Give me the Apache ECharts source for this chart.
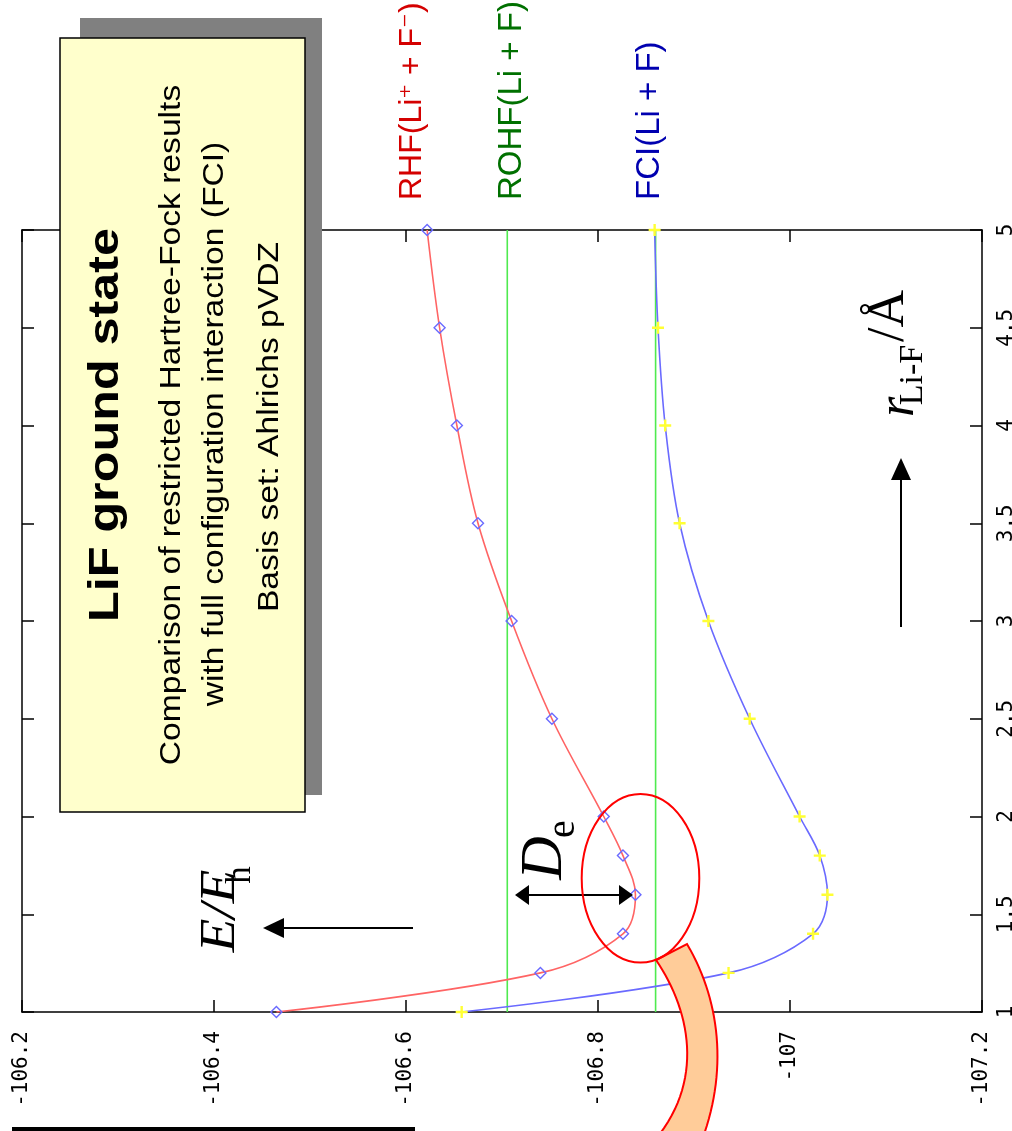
<!DOCTYPE html>
<html>
<head>
<meta charset="utf-8">
<script src="https://cdn.jsdelivr.net/npm/echarts@6/dist/echarts.min.js"></script>
<style>
html,body{margin:0;padding:0;background:#fff;}
#chart{width:1012px;height:1131px;}
</style>
</head>
<body>
<div id="chart"></div>
<script>
// ---- data ----
const distances = [1.0, 1.2, 1.4, 1.6, 1.8, 2.0, 2.5, 3.0, 3.5, 4.0, 4.5, 5.0];
const rhfEnergy = [-106.465, -106.740, -106.826, -106.839, -106.826, -106.806, -106.752, -106.710, -106.675, -106.653, -106.635, -106.622];
const fciEnergy = [-106.658, -106.936, -107.024, -107.039, -107.031, -107.010, -106.958, -106.915, -106.885, -106.870, -106.8625, -106.859];
const rohfLimit = -106.7055;
const fciLimit = -106.860;
const energyRange = [-107.2, -106.2];
const distanceRange = [1, 5];
const titleText = 'LiF ground state';
const subtitleLines = ['Comparison of restricted Hartree-Fock results', 'with full configuration interaction (FCI)', 'Basis set: Ahlrichs pVDZ'];

const chart = echarts.init(document.getElementById('chart'), null, {renderer: 'canvas'});
const R90 = Math.PI / 2;

const axisLine = {show: true, lineStyle: {color: '#000', width: 1.5}};
const axisTick = {show: true, inside: true, length: 12, lineStyle: {color: '#000', width: 1.5}};
const monoLabel = {fontFamily: 'DejaVu Sans Mono', fontSize: 21, color: '#000'};

function pairs(ys) { return distances.map((r, i) => [ys[i], r]); }

const plusPath = 'path://M4,0L6,0L6,4L10,4L10,6L6,6L6,10L4,10L4,6L0,6L0,4L4,4Z';

// orange band outline from two cubic curves (annotation shape)
function cubic(p0, p1, p2, p3, n) {
  const pts = [];
  for (let k = 0; k <= n; k++) {
    const t = k / n, u = 1 - t;
    pts.push([
      u*u*u*p0[0] + 3*u*u*t*p1[0] + 3*u*t*t*p2[0] + t*t*t*p3[0],
      u*u*u*p0[1] + 3*u*u*t*p1[1] + 3*u*t*t*p2[1] + t*t*t*p3[1]
    ]);
  }
  return pts;
}
const bandPts = cubic([656,960],[690,1010],[705,1080],[655,1140],30)
  .concat(cubic([702,1140],[728,1070],[720,1000],[687,944],30));

function rtext(x, y, text, style, extra) {
  return Object.assign({type: 'text', x: x, y: y, rotation: R90, z: 100,
    style: Object.assign({text: text, align: 'center', verticalAlign: 'middle', fill: '#000'}, style)}, extra || {});
}
function seriesLabel(x, text, color, size) {
  return rtext(x, 200, text, {fontFamily: 'Liberation Sans', fontSize: size, fill: color, align: 'left',
    rich: {s: {fontFamily: 'DejaVu Sans', fontSize: 28, fill: color}}});
}

const option = {
  backgroundColor: '#fff',
  animation: false,
  grid: {left: 22, right: 30, top: 230, bottom: 119, containLabel: false, outerBoundsMode: 'none'},
  xAxis: [
    {type: 'value', min: energyRange[0], max: energyRange[1], interval: 0.2, inverse: true, position: 'bottom',
     axisLine: axisLine, axisTick: axisTick, splitLine: {show: false},
     axisLabel: Object.assign({rotate: 90, margin: 19, formatter: v => String(Math.round(v * 10) / 10)}, monoLabel)},
    {type: 'value', min: energyRange[0], max: energyRange[1], interval: 0.2, inverse: true, position: 'top',
     axisLine: axisLine, axisTick: axisTick, splitLine: {show: false}, axisLabel: {show: false}}
  ],
  yAxis: [
    {type: 'value', min: distanceRange[0], max: distanceRange[1], interval: 0.5, position: 'right',
     axisLine: axisLine, axisTick: axisTick, splitLine: {show: false},
     axisLabel: Object.assign({rotate: 90, margin: 14, formatter: v => String(v)}, monoLabel)},
    {type: 'value', min: distanceRange[0], max: distanceRange[1], interval: 0.5, position: 'left',
     axisLine: axisLine, axisTick: axisTick, splitLine: {show: false}, axisLabel: {show: false}}
  ],
  series: [
    {name: 'ROHF', type: 'line', data: [[rohfLimit, distanceRange[0]], [rohfLimit, distanceRange[1]]],
     symbol: 'none', lineStyle: {color: '#4fea4f', width: 1.6}, z: 2},
    {name: 'FCI limit', type: 'line', data: [[fciLimit, distanceRange[0]], [fciLimit, distanceRange[1]]],
     symbol: 'none', lineStyle: {color: '#4fea4f', width: 1.6}, z: 2},
    {name: 'RHF', type: 'line', data: pairs(rhfEnergy), smooth: 0.35,
     lineStyle: {color: '#ff6464', width: 1.6}, symbol: 'diamond', symbolSize: 11,
     itemStyle: {color: 'rgba(255,255,255,0)', borderColor: '#6a6aff', borderWidth: 1.4}, z: 3},
    {name: 'FCI', type: 'line', data: pairs(fciEnergy), smooth: 0.35,
     lineStyle: {color: '#6a6aff', width: 1.6}, symbol: plusPath, symbolSize: 12,
     itemStyle: {color: '#ffff33'}, z: 3}
  ],
  graphic: [
    // box with shadow
    {type: 'rect', shape: {x: 80, y: 18, width: 242, height: 777}, style: {fill: '#808080'}, z: 90},
    {type: 'rect', shape: {x: 60, y: 38, width: 245, height: 774}, style: {fill: '#ffffcc', stroke: '#000', lineWidth: 1.5}, z: 91},
    rtext(106, 425, titleText, {fontFamily: 'Liberation Sans', fontWeight: 'bold', fontSize: 43}, {scaleX: 1.17}),
    rtext(172, 425, subtitleLines[0], {fontFamily: 'Liberation Sans', fontSize: 29}, {scaleX: 1.16}),
    rtext(215, 424, subtitleLines[1], {fontFamily: 'Liberation Sans', fontSize: 29}, {scaleX: 1.16}),
    rtext(270, 427, subtitleLines[2], {fontFamily: 'Liberation Sans', fontSize: 29}, {scaleX: 1.16}),
    // series labels
    seriesLabel(412, 'RHF(Li{s|\u207A} + F{s|\u207B})', '#d40000', 32),
    seriesLabel(512, 'ROHF(Li + F)', '#007000', 33),
    seriesLabel(650, 'FCI(Li + F)', '#0000b0', 33),
    // E/E_h label and arrow
    rtext(221, 911, 'E/E', {fontFamily: 'Liberation Serif', fontStyle: 'italic', fontSize: 50}, {scaleX: 1.1}),
    rtext(241, 875, 'h', {fontFamily: 'Liberation Serif', fontSize: 35}),
    {type: 'line', shape: {x1: 413, y1: 928, x2: 280, y2: 928}, style: {stroke: '#000', lineWidth: 2}, z: 100},
    {type: 'polygon', shape: {points: [[263, 928], [284, 918], [284, 938]]}, style: {fill: '#000'}, z: 100},
    // r label and arrow
    rtext(899, 407, 'r', {fontFamily: 'Liberation Serif', fontStyle: 'italic', fontSize: 52}),
    rtext(913, 375, 'Li-F', {fontFamily: 'Liberation Serif', fontSize: 34}),
    rtext(889, 316, '/\u00C5', {fontFamily: 'Liberation Serif', fontSize: 52}),
    {type: 'line', shape: {x1: 901, y1: 627, x2: 901, y2: 475}, style: {stroke: '#000', lineWidth: 2}, z: 100},
    {type: 'polygon', shape: {points: [[901, 458], [891, 480], [911, 480]]}, style: {fill: '#000'}, z: 100},
    // D_e
    rtext(545, 858, 'D', {fontFamily: 'Liberation Serif', fontStyle: 'italic', fontSize: 60}),
    rtext(563, 829, 'e', {fontFamily: 'Liberation Serif', fontSize: 40}),
    {type: 'line', shape: {x1: 525, y1: 895, x2: 622, y2: 895}, style: {stroke: '#000', lineWidth: 2}, z: 100},
    {type: 'polygon', shape: {points: [[515, 895], [529, 885], [529, 905]]}, style: {fill: '#000'}, z: 100},
    {type: 'polygon', shape: {points: [[633, 895], [619, 885], [619, 905]]}, style: {fill: '#000'}, z: 100},
    // highlight ellipse + band
    {type: 'polygon', shape: {points: bandPts}, style: {fill: '#ffcc99', stroke: '#ff0000', lineWidth: 2}, z: 101},
    {type: 'ellipse', shape: {cx: 640.5, cy: 878.3, rx: 58.8, ry: 84.3}, style: {fill: 'none', stroke: '#ff0000', lineWidth: 2}, z: 102},
    // black bar bottom-left
    {type: 'rect', shape: {x: 12, y: 1127, width: 403, height: 4}, style: {fill: '#000'}, z: 100}
  ]
};
chart.setOption(option);
</script>
</body>
</html>
